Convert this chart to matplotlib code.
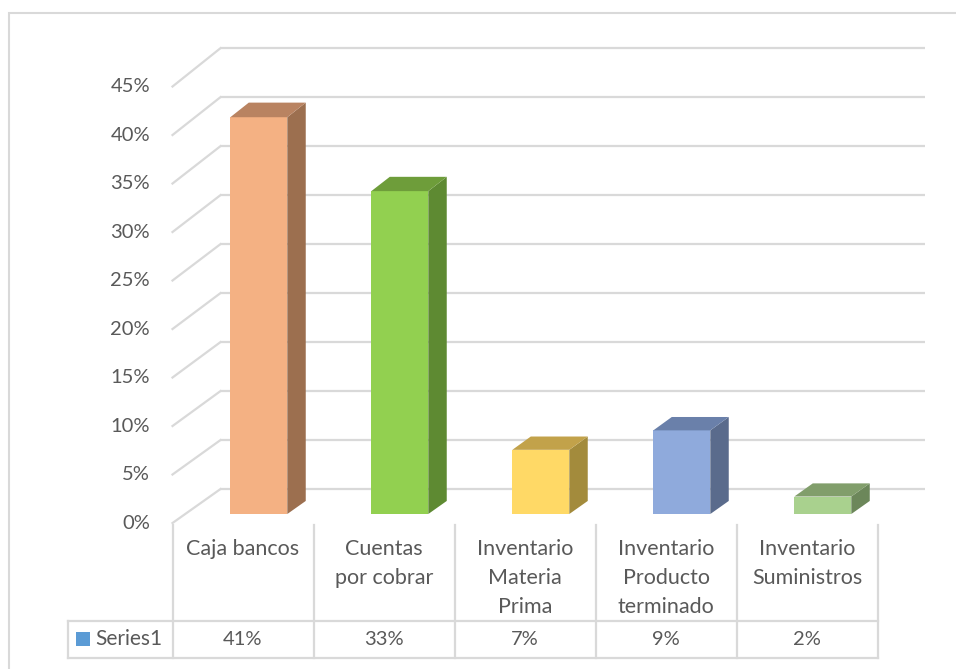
import numpy as np
import matplotlib
matplotlib.use('Agg')
import matplotlib.pyplot as plt
from matplotlib.patches import Polygon, Rectangle

# data
categories = ['Caja bancos', 'Cuentas\npor cobrar', 'Inventario\nMateria\nPrima',
              'Inventario\nProducto\nterminado', 'Inventario\nSuministros']
values = [0.408, 0.332, 0.066, 0.086, 0.018]
series_name = 'Series1'
yticks = [0, 0.05, 0.10, 0.15, 0.20, 0.25, 0.30, 0.35, 0.40, 0.45]

front_colors = ['#F4B183', '#92D050', '#FFD966', '#8FAADC', '#A9D18E']
side_colors = ['#9C6F4F', '#5E8A32', '#A38B3C', '#5A6B8C', '#6C875A']
top_colors = ['#B98361', '#6E9D3A', '#C2A24A', '#6A80AA', '#819E6B']

GRID = '#D9D9D9'
TEXT = '#595959'
plt.rcParams['font.family'] = ['Lato', 'DejaVu Sans']

# fake 3d projection: depth d in [0, 1] from front to back wall
DX, DY, KB = 0.34, 0.035, 1.01


def proj(x, v, d):
    return x + d * DX, DY * d + v * (1 + (KB - 1) * d)


fig = plt.figure(figsize=(9.56, 6.69), dpi=100)
ax = fig.add_axes([0, 0, 1, 1])
ax.set_xlim(-1.7234, 5.0567)
ax.set_ylim(-0.1505, 0.5392)
ax.axis('off')

n = len(categories)
x_left, x_right = -0.5, n - 0.5

# back wall gridlines plus the diagonal side-wall strokes
for v in yticks:
    xa, ya = proj(x_left, v, 1)
    xb, yb = proj(x_right, v, 1)
    ax.plot([xa, xb], [ya, yb], color=GRID, lw=1.6, zorder=1, solid_capstyle='butt')
    xf, yf = proj(x_left, v, 0)
    ax.plot([xf, xa], [yf, ya], color=GRID, lw=1.6, zorder=1)
    ax.text(-0.66, v, f'{v:.0%}', ha='right', va='center', fontsize=14.5, color=TEXT)

# columns
bx0, bw = -0.18, 0.404
d0, d1 = 0.265, 0.65
for i, v in enumerate(values):
    xl, xr = i + bx0, i + bx0 + bw
    fl = proj(xl, 0, d0); fr = proj(xr, 0, d0)
    tl = proj(xl, v, d0); tr = proj(xr, v, d0)
    br = proj(xr, 0, d1); btr = proj(xr, v, d1); btl = proj(xl, v, d1)
    ax.add_patch(Polygon([fl, fr, tr, tl], closed=True, fc=front_colors[i], ec='none', zorder=3))
    ax.add_patch(Polygon([fr, br, btr, tr], closed=True, fc=side_colors[i], ec='none', zorder=3))
    ax.add_patch(Polygon([tl, tr, btr, btl], closed=True, fc=top_colors[i], ec='none', zorder=3))

# data table under the axis
y_top, y_mid, y_bot = -0.002, -0.1007, -0.139
x_key = -1.241
for k in range(n + 1):
    ax.plot([x_left + k, x_left + k], [y_top, y_bot], color=GRID, lw=1.6, zorder=1)
ax.plot([x_key, x_right], [y_mid, y_mid], color=GRID, lw=1.6, zorder=1)
ax.plot([x_key, x_right], [y_bot, y_bot], color=GRID, lw=1.6, zorder=1)
ax.plot([x_key, x_key], [y_mid, y_bot], color=GRID, lw=1.6, zorder=1)

row_y = (y_mid + y_bot) / 2
for i, (c, v) in enumerate(zip(categories, values)):
    ax.text(i, -0.0165, c, ha='center', va='top', fontsize=15.5, color=TEXT,
            linespacing=1.55)
    ax.text(i, row_y, f'{v:.0%}', ha='center', va='center',
            fontsize=14.5, color=TEXT)

ax.add_patch(Rectangle((x_key + 0.057, row_y - 0.0072), 0.0993, 0.0144,
                       fc='#5B9BD5', ec='none'))
ax.text(x_key + 0.19, row_y, series_name, ha='left', va='center',
        fontsize=15, color=TEXT)

# chart area border
fig.patches.append(Rectangle((9 / 956, -0.1), 1.1, 1.1 - 13 / 669, transform=fig.transFigure,
                             fill=False, ec=GRID, lw=1.5))

fig.savefig('out.png', dpi=100, facecolor='white')
